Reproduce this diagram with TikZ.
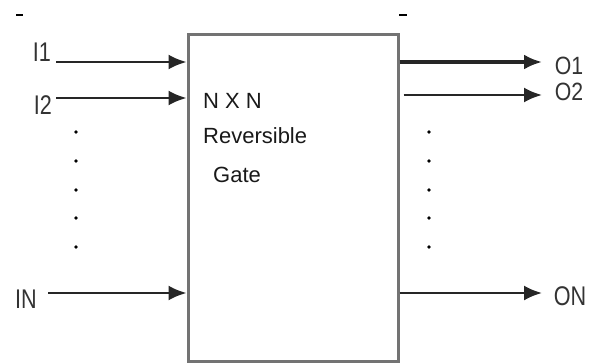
\documentclass[tikz,border=0pt]{standalone}
\usepackage{fontspec}
\setmainfont{Liberation Sans}
\usetikzlibrary{arrows.meta}

\begin{document}
\begin{tikzpicture}[
    x=1pt, y=-1pt,
    gatebox/.style={rectangle, draw=black!55, line width=3pt, minimum width=210pt, minimum height=327pt, inner sep=0pt},
    gatetext/.style={anchor=base west, inner sep=0pt, text=black!90, font=\fontsize{22}{26}\selectfont},
    portlabel/.style={inner sep=0pt, text=black!80, font=\fontsize{27}{30}\selectfont, xscale=0.8},
    outlabel/.style={inner sep=0pt, text=black!80, font=\fontsize{25}{27}\selectfont, xscale=0.85},
    wire/.style={draw=black!85, line width=2.4pt, -{Latex[length=18pt, width=15pt]}},
    dot/.style={circle, fill=black, inner sep=0pt, minimum size=3.6pt}
]
\useasboundingbox (0,0) rectangle (589,362);

\node[gatebox] (gate) at (293,197.5) {};
\node[gatetext] (nxn) at (203,108) {N X N};
\node[gatetext] (rev) at (203,143) {Reversible};
\node[gatetext] (gt) at (213,182) {Gate};

% inputs
\node[portlabel] (li1) at (42,52) {I1};
\node[portlabel] (li2) at (43,105) {I2};
\node[portlabel] (lin) at (26,299) {IN};
\coordinate (i1) at (56,62);
\coordinate (i2) at (56,98);
\coordinate (in) at (48,293);
\draw[wire] (i1) -- (gate.west |- i1);
\draw[wire] (i2) -- (gate.west |- i2);
\draw[wire] (in) -- (gate.west |- in);

% outputs
\node[outlabel] (lo1) at (569,66) {O1};
\node[outlabel] (lo2) at (569,92) {O2};
\node[portlabel] (lon) at (570,296) {ON};
\coordinate (o1) at (542,62);
\coordinate (o2) at (542,95);
\coordinate (on) at (542,293);
\draw[wire, line width=3.2pt] (gate.east |- o1) -- (o1);
\draw[wire] ([xshift=4pt]gate.east |- o2) -- (o2);
\draw[wire] (gate.east |- on) -- (on);

% dots
\foreach \y in {132,161,190,218,247} {
    \node[dot] at (76,\y) {};
    \node[dot] at (429,\y) {};
}

% marks at the top
\draw[line width=2.4pt] (16,15) -- (23,15);
\draw[line width=2.4pt] (399,15) -- (407,15);

\end{tikzpicture}
\end{document}
